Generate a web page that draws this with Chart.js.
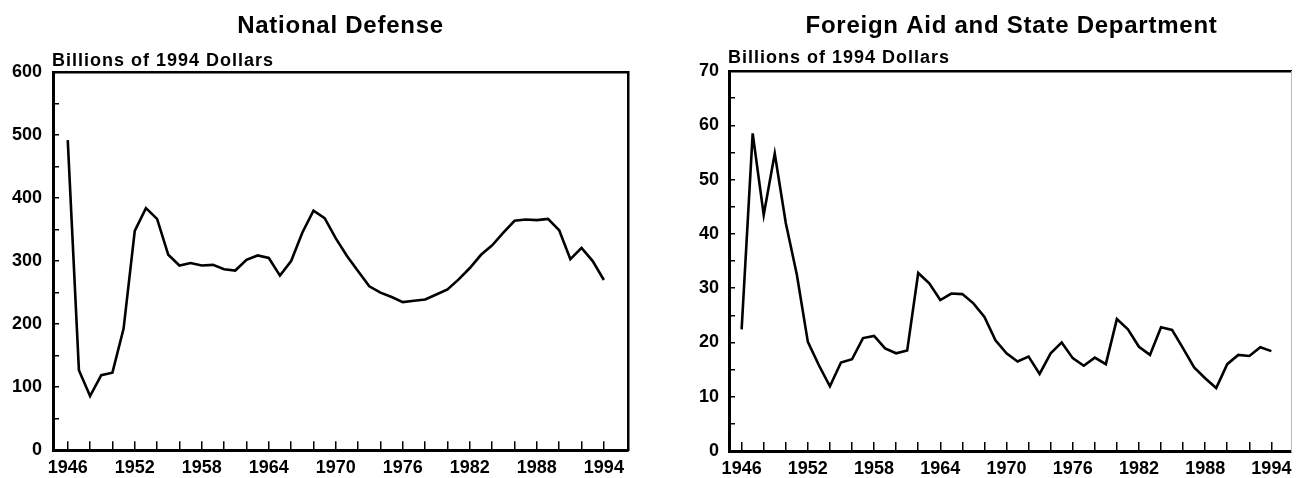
<!DOCTYPE html>
<html><head><meta charset="utf-8">
<script src="https://cdn.jsdelivr.net/npm/chart.js@4/dist/chart.umd.min.js"></script>
<style>
html,body{margin:0;padding:0;background:#fff;overflow:hidden;width:1308px;height:478px;}
canvas{position:absolute;top:0;}
#c1{left:0;} #c2{left:680px;}
</style></head><body>
<canvas id="c1" width="680" height="478"></canvas>
<canvas id="c2" width="628" height="478"></canvas>
<script>
const years = [1946,1947,1948,1949,1950,1951,1952,1953,1954,1955,1956,1957,1958,1959,1960,1961,1962,1963,1964,1965,1966,1967,1968,1969,1970,1971,1972,1973,1974,1975,1976,1977,1978,1979,1980,1981,1982,1983,1984,1985,1986,1987,1988,1989,1990,1991,1992,1993,1994];
const defenseValues = [492,127,86,119,123,193,348,384,367,310,293,297,293,294,287,285,302,309,305,277,300,345,380,368,336,308,284,260,250,243,235,237,239,247,255,271,289,310,325,345,364,366,365,367,349,303,321,300,270];
const foreignAidValues = [22.4,58.5,43.5,54.8,42,32.5,20.1,15.8,11.9,16.3,16.9,20.8,21.2,18.9,18.0,18.5,32.8,30.9,27.8,29.0,28.9,27.2,24.7,20.4,18.0,16.5,17.4,14.2,18.0,20.0,17.1,15.7,17.2,16.0,24.3,22.4,19.2,17.7,22.8,22.3,18.9,15.4,13.4,11.6,16.0,17.7,17.5,19.1,18.4];
const xTickYears = [1946,1948,1950,1952,1954,1956,1958,1960,1962,1964,1966,1968,1970,1972,1974,1976,1978,1980,1982,1984,1986,1988,1990,1992,1994];
const xLabelYears = [1946,1952,1958,1964,1970,1976,1982,1988,1994];
const defenseYLabels = [0,100,200,300,400,500,600];
const aidYLabels = [0,10,20,30,40,50,60,70];
const titles = ["National Defense", "Foreign Aid and State Department"];
const unitLabel = "Billions of 1994 Dollars";

const FONT = '"Liberation Sans", Arial, Helvetica, sans-serif';
Chart.defaults.font.family = FONT;
Chart.defaults.color = '#000';

const textPlugin = {
  id: 'chartTexts',
  afterDraw(chart, args, opts) {
    const ctx = chart.ctx, a = chart.chartArea;
    ctx.save();
    ctx.fillStyle = '#000';
    ctx.textBaseline = 'alphabetic';
    ctx.font = 'bold 24px ' + FONT;
    ctx.letterSpacing = '0.75px';
    ctx.textAlign = 'center';
    ctx.fillText(opts.title, (a.left + a.right) / 2 + opts.titleDx, opts.titleY);
    ctx.font = 'bold 18px ' + FONT;
    ctx.letterSpacing = '1px';
    ctx.textAlign = 'left';
    ctx.fillText(opts.subtitle, a.left + opts.subDx, opts.subY);
    ctx.restore();
  }
};

function makeChart(id, values, o) {
  const data = years.map((yr, i) => ({x: yr, y: values[i]}));
  return new Chart(document.getElementById(id), {
    type: 'line',
    data: { datasets: [{ data, borderColor: '#000', borderWidth: 2.6, pointRadius: 0, tension: 0, fill: false }] },
    plugins: [textPlugin],
    options: {
      responsive: false, animation: false, devicePixelRatio: 1,
      layout: { padding: { top: o.top, right: o.right, left: 0, bottom: 0 } },
      plugins: {
        legend: { display: false }, tooltip: { enabled: false },
        chartTexts: { title: o.title, titleDx: o.titleDx, titleY: 32.5, subtitle: unitLabel, subDx: o.subDx, subY: o.subY }
      },
      scales: {
        x: {
          type: 'linear', position: 'bottom', min: o.xmin, max: o.xmax,
          afterBuildTicks: s => { s.ticks = xTickYears.map(v => ({value: v})); },
          afterFit: s => { s.height = 27; },
          ticks: { autoSkip: false, maxRotation: 0, minRotation: 0, padding: 16, color: '#000',
                   font: { size: 18, weight: 'bold' },
                   callback: v => xLabelYears.includes(v) ? String(v) : '' },
          grid: { display: true, drawOnChartArea: false, drawTicks: true, tickLength: -9, color: '#000', lineWidth: 1.5 },
          border: { display: true, color: '#000', width: 3 }
        },
        y: {
          type: 'linear', position: 'left', min: 0, max: o.ymax,
          afterFit: s => { s.width = o.yWidth; },
          ticks: { stepSize: o.minorStep, padding: o.yPad, color: '#000', autoSkip: false,
                   font: { size: 18, weight: 'bold' },
                   callback: v => o.yLabels.includes(v) ? String(v) : '' },
          grid: { display: true, drawOnChartArea: false, drawTicks: true, tickLength: -6, color: '#000', lineWidth: 1.5 },
          border: { display: true, color: '#000', width: 3 }
        },
        xTop: {
          type: 'linear', position: 'top', min: o.xmin, max: o.xmax, display: true,
          afterFit: s => { s.height = 0; },
          ticks: { display: false }, grid: { display: false },
          border: { display: true, color: '#000', width: 2.5 }
        },
        yRight: {
          type: 'linear', position: 'right', min: 0, max: o.ymax, display: true,
          afterFit: s => { s.width = 0; },
          ticks: { display: false }, grid: { display: false },
          border: { display: true, color: o.rightColor, width: o.rightWidth }
        }
      }
    }
  });
}

makeChart('c1', defenseValues, {
  title: titles[0], titleDx: 0, subDx: -1, subY: 65.5,
  top: 72, right: 52, xmin: 1944.68, xmax: 1996.16, ymax: 600, minorStep: 50,
  yLabels: defenseYLabels, yWidth: 53, yPad: 17, rightColor: '#000', rightWidth: 2.5
});
makeChart('c2', foreignAidValues, {
  title: titles[1], titleDx: 1.5, subDx: -1, subY: 62.5,
  top: 71, right: 1, xmin: 1944.855, xmax: 1995.78, ymax: 70, minorStep: 5,
  yLabels: aidYLabels, yWidth: 49, yPad: 16, rightColor: '#bbb', rightWidth: 1
});
</script>
</body></html>
